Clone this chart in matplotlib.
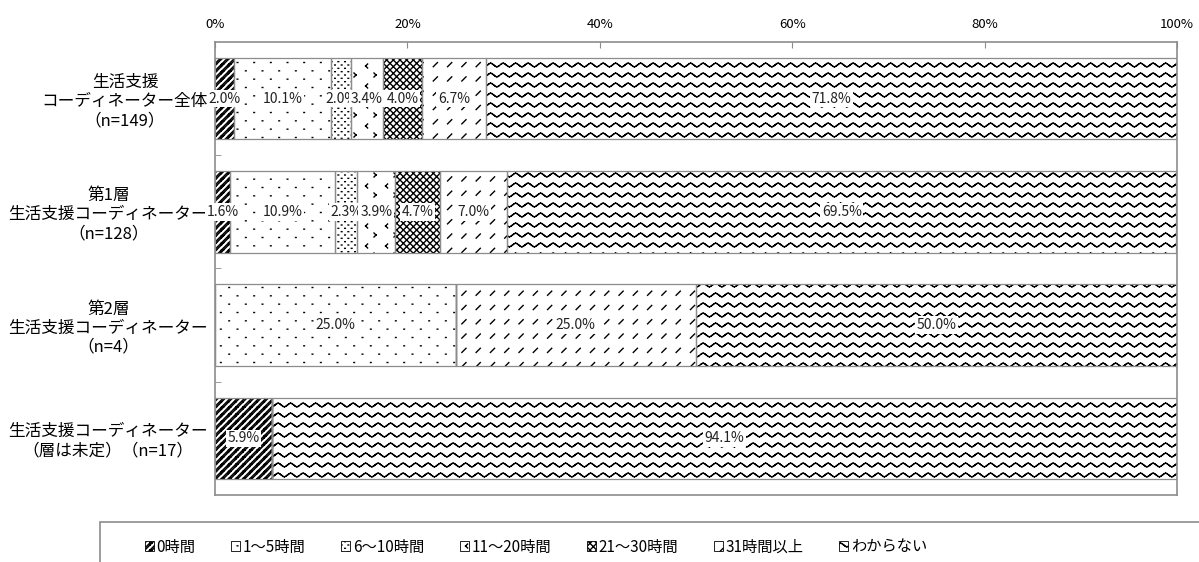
import warnings
import numpy as np
import matplotlib
matplotlib.use('Agg')
import matplotlib.pyplot as plt
import matplotlib.hatch as mhatch
import matplotlib.patches as mpatches
from matplotlib.path import Path

warnings.filterwarnings('ignore', message='hatch must consist')

plt.rcParams['font.family'] = ['Noto Sans CJK JP', 'DejaVu Sans']
plt.rcParams['hatch.linewidth'] = 1.0

categories = ['生活支援\nコーディネーター全体\n（n=149）',
              '第1層\n生活支援コーディネーター\n（n=128）',
              '第2層\n生活支援コーディネーター\n（n=4）',
              '生活支援コーディネーター\n（層は未定）（n=17）']
series = ['0時間', '1～5時間', '6～10時間', '11～20時間',
          '21～30時間', '31時間以上', 'わからない']
hours_0 = [2.0, 1.6, 0.0, 5.9]
hours_1_5 = [10.1, 10.9, 25.0, 0.0]
hours_6_10 = [2.0, 2.3, 0.0, 0.0]
hours_11_20 = [3.4, 3.9, 0.0, 0.0]
hours_21_30 = [4.0, 4.7, 0.0, 0.0]
hours_31 = [6.7, 7.0, 25.0, 0.0]
unknown = [71.8, 69.5, 50.0, 94.1]
xtick_vals = [0, 20, 40, 60, 80, 100]


# tiled hatch patterns built from short line segments in a unit tile
class TileHatch(mhatch.HatchPatternBase):
    char = ''
    tiles = 1
    segs = []

    def __init__(self, hatch, density):
        self.n = hatch.count(self.char) * self.tiles
        self.num_vertices = self.n * self.n * len(self.segs) * 2

    def set_vertices_and_codes(self, vertices, codes):
        segs = np.asarray(self.segs, dtype=float)
        i, j = np.meshgrid(np.arange(self.n), np.arange(self.n))
        offs = np.column_stack([i.ravel(), j.ravel()])
        pts = (segs[None] + offs[:, None, None, :]) / self.n
        vertices[:] = pts.reshape(-1, 2)
        codes[0::2] = Path.MOVETO
        codes[1::2] = Path.LINETO


def wave_segs(rows, periods, amp, steps_per_period=8):
    steps = periods * steps_per_period
    x = np.linspace(0, 1, steps + 1)
    out = []
    for r in range(rows):
        y = (r + 0.5) / rows + amp * np.sin(2 * np.pi * periods * x)
        out += [((x[k], y[k]), (x[k + 1], y[k + 1])) for k in range(steps)]
    return out


def dot(x, y, d=0.04):
    return ((x - d / 2, y), (x + d / 2, y))


class Stripes(TileHatch):
    char, tiles = 's', 14
    segs = [((0, 0), (1, 1)), ((0.3, 0), (1, 0.7)), ((0, 0.7), (0.3, 1))]


class SparseDots(TileHatch):
    char, tiles = 'p', 6
    segs = [dot(0.25, 0.25), dot(0.75, 0.75)]


class DenseDots(TileHatch):
    char, tiles = 'q', 15
    segs = [dot(0.25, 0.25, 0.1), dot(0.75, 0.75, 0.1)]


class Chevrons(TileHatch):
    char, tiles = 'c', 5
    segs = [((0.38, 0.8), (0.28, 0.7)), ((0.28, 0.7), (0.38, 0.6)),
            ((0.7, 0.35), (0.8, 0.25)), ((0.8, 0.25), (0.7, 0.15))]


class Dashes(TileHatch):
    char, tiles = 'd', 7
    segs = [((0.33, 0.33), (0.62, 0.62))]


class Waves(TileHatch):
    char, tiles = 'w', 1
    segs = wave_segs(rows=10, periods=8, amp=0.018)


mhatch._hatch_types += [Stripes, SparseDots, DenseDots, Chevrons, Dashes, Waves]

hatches = ['s', 'p', 'q', 'c', 'xxxxx', 'd', 'w']
data = np.array([hours_0, hours_1_5, hours_6_10, hours_11_20,
                 hours_21_30, hours_31, unknown]).T

fig = plt.figure(figsize=(11.99, 5.62), dpi=100)
ax = fig.add_axes([0.1793, 0.1192, 0.8024, 0.8061])

y = np.arange(len(categories))
lefts = np.zeros(len(categories))
edge = '#8c8c8c'
for k, (name, h) in enumerate(zip(series, hatches)):
    vals = data[:, k]
    ax.barh(y, vals, left=lefts, height=0.72, color='white',
            edgecolor='black', linewidth=0, hatch=h, zorder=2)
    ax.barh(y, vals, left=lefts, height=0.72, fill=False,
            edgecolor=edge, linewidth=0.9, zorder=3)
    for yi, l, v in zip(y, lefts, vals):
        if v > 0:
            ax.text(l + v / 2, yi, f'{v:.1f}%', ha='center', va='center',
                    fontsize=10, color='#222222', zorder=4,
                    bbox=dict(boxstyle='square,pad=0.12', fc='white', ec='none'))
    lefts += vals

ax.set_xlim(0, 100)
ax.set_ylim(len(categories) - 0.5, -0.5)
ax.xaxis.tick_top()
ax.set_xticks(xtick_vals)
ax.set_xticklabels([f'{v}%' for v in xtick_vals], fontsize=9.5)
ax.tick_params(axis='x', direction='in', length=4, color=edge, pad=8)
ax.set_yticks(y)
ax.set_yticklabels(categories, fontsize=12, linespacing=1.15)
for t in ax.get_yticklabels():
    t.set_multialignment('center')
ax.set_yticks(y[:-1] + 0.5, minor=True)
ax.tick_params(axis='y', which='major', length=0, pad=5)
ax.tick_params(axis='y', which='minor', direction='in', length=4, color=edge)
for s in ax.spines.values():
    s.set_color(edge)
    s.set_linewidth(1.2)

# legend box running off the bottom right of the figure
fig.patches.append(mpatches.Rectangle((0.0834, -0.2), 1.0, 0.2712,
                                      transform=fig.transFigure, fill=False,
                                      edgecolor=edge, linewidth=1.2))
handles = [mpatches.Patch(facecolor='white', edgecolor='black', linewidth=0.6,
                          hatch=h) for h in hatches]
fig.legend(handles, series, ncol=7, loc='center',
           bbox_to_anchor=(0.447, 1 - 547 / 562), frameon=False, fontsize=11,
           handlelength=0.6, handleheight=0.6, handletextpad=0.2,
           columnspacing=2.3)

fig.savefig('out.png', dpi=100)
